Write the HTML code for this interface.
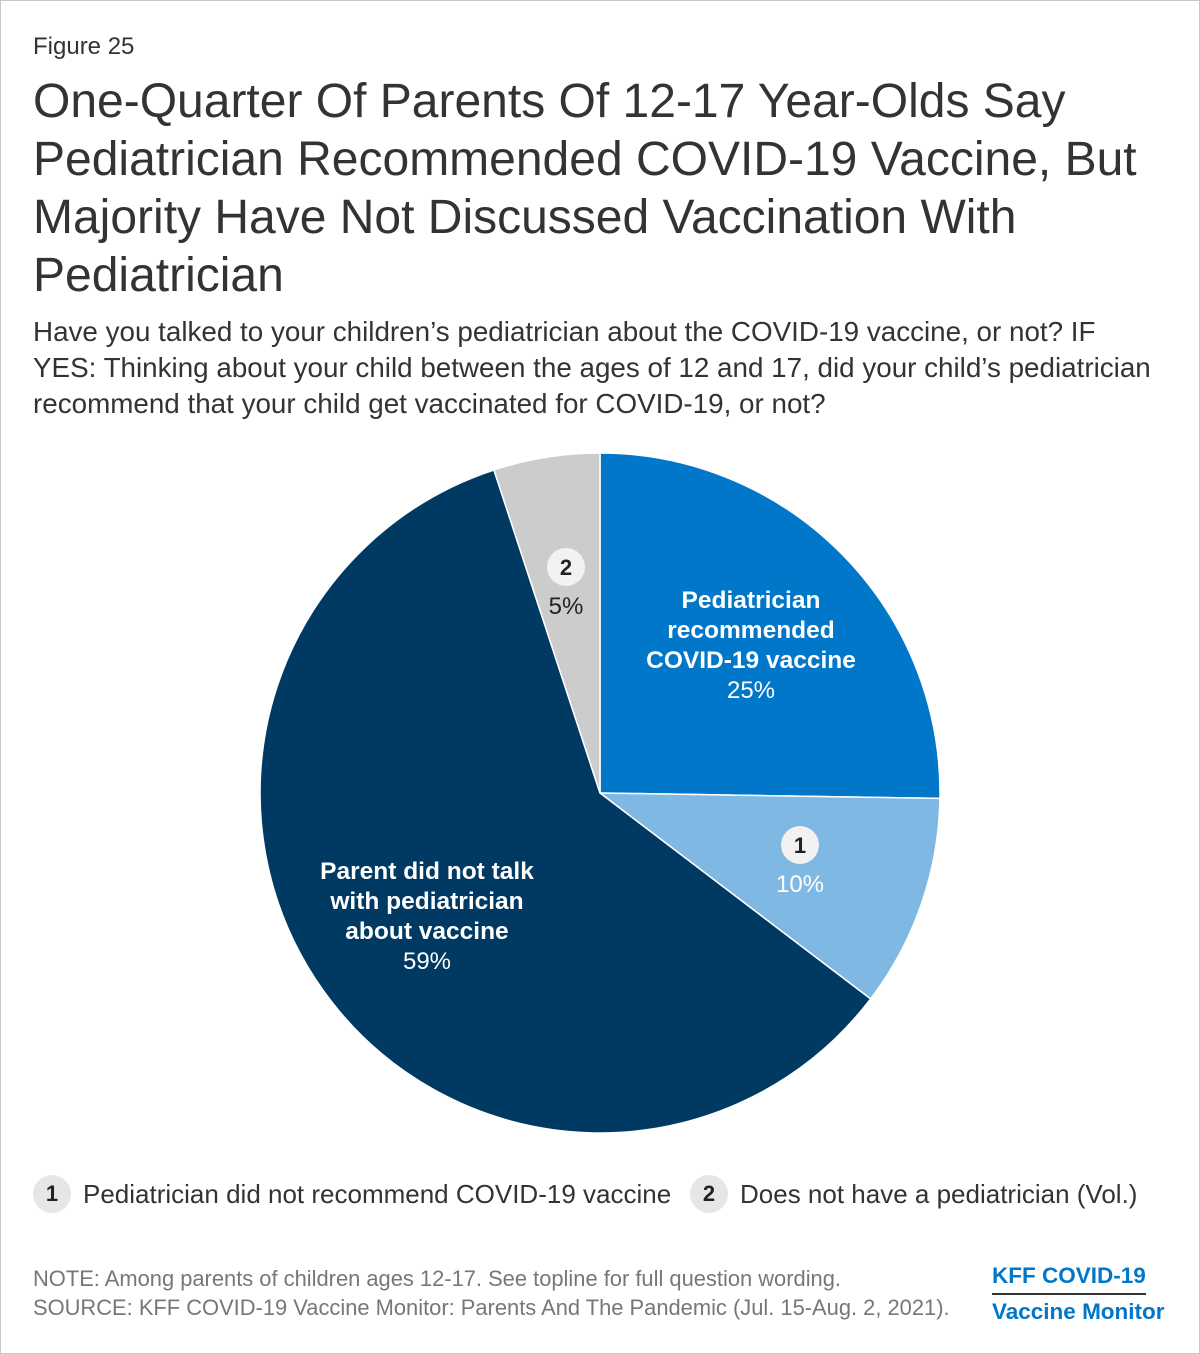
<!DOCTYPE html>
<html><head><meta charset="utf-8"><style>
body{margin:0;width:1200px;height:1354px;background:#fff;font-family:"Liberation Sans",Arial,sans-serif;color:#333;position:relative;overflow:hidden}
.frame{position:absolute;left:0;top:0;width:1198px;height:1352px;border:1px solid #c8c8c8}
.fig{position:absolute;left:33px;top:33px;font-size:24px;color:#333}
.title{position:absolute;left:33px;top:73px;width:1160px;font-size:48px;line-height:58px;color:#333}
.sub{position:absolute;left:33px;top:314px;width:1132px;font-size:27.8px;line-height:36px;color:#333}
.legend{position:absolute;top:1175px;font-size:26px;color:#333;display:flex;align-items:center}
.badge{display:inline-block;width:38px;height:38px;border-radius:50%;background:#e6e6e6;text-align:center;line-height:38px;font-weight:bold;font-size:22px;margin-right:12px;color:#222}
.note{position:absolute;left:33px;top:1264px;font-size:21.9px;line-height:29px;color:#777;white-space:nowrap}
.logo{position:absolute;left:992px;top:1259px;color:#0077c8;font-weight:bold;font-size:22.5px;line-height:34px}
.logo .l1{border-bottom:2px solid #333;display:inline-block}
</style></head><body>
<div class="frame"></div>
<div class="fig">Figure 25</div>
<div class="title">One-Quarter Of Parents Of 12-17 Year-Olds Say Pediatrician Recommended COVID-19 Vaccine, But Majority Have Not Discussed Vaccination With Pediatrician</div>
<div class="sub">Have you talked to your children’s pediatrician about the COVID-19 vaccine, or not? IF YES: Thinking about your child between the ages of 12 and 17, did your child’s pediatrician recommend that your child get vaccinated for COVID-19, or not?</div>
<svg id="pie" style="position:absolute;left:0;top:0" width="1200" height="1354"></svg>
<div class="legend" style="left:33px"><span class="badge">1</span>Pediatrician did not recommend COVID-19 vaccine</div>
<div class="legend" style="left:690px"><span class="badge">2</span>Does not have a pediatrician (Vol.)</div>
<div class="note">NOTE: Among parents of children ages 12-17. See topline for full question wording.<br>SOURCE: KFF COVID-19 Vaccine Monitor: Parents And The Pandemic (Jul. 15-Aug. 2, 2021).</div>
<div class="logo"><span class="l1">KFF COVID-19</span><br>Vaccine Monitor</div>
<script>
const categories=["Pediatrician recommended COVID-19 vaccine","Pediatrician did not recommend COVID-19 vaccine","Parent did not talk with pediatrician about vaccine","Does not have a pediatrician (Vol.)"];
const values=[25,10,59,5];
const colors=["#0077c8","#7fb9e3","#003a63","#cccccc"];
const labelLines=[["Pediatrician","recommended","COVID-19 vaccine"],[],["Parent did not talk","with pediatrician","about vaccine"],[]];
const badges=["","1","","2"];
// label anchor layout (x center, y of first element)
const labelAnchor=[[751,608],[800,845],[427,879],[566,567]];
const cx=600,cy=793,R=340;
const svg=document.getElementById('pie');
const NS="http://www.w3.org/2000/svg";
const total=values.reduce((a,b)=>a+b,0);
let a0=0;
function pt(a,r){return [cx+r*Math.sin(a),cy-r*Math.cos(a)];}
function txt(x,y,s,bold,fill,name){
  const t=document.createElementNS(NS,'text');
  t.setAttribute('x',x);t.setAttribute('y',y);t.setAttribute('text-anchor','middle');
  t.setAttribute('font-size',bold==='b'?'22':(bold?'24.5':'24'));
  if(bold) t.setAttribute('font-weight','bold');
  t.setAttribute('fill',fill);
  t.setAttribute('font-family','Liberation Sans, Arial, sans-serif');t.textContent=s;
  
  
  svg.appendChild(t);
}
values.forEach((v,i)=>{
  const a1=a0+v/total*2*Math.PI;
  const p0=pt(a0,R),p1=pt(a1,R);
  const path=document.createElementNS(NS,'path');
  path.setAttribute('d',`M${cx},${cy}L${p0[0]},${p0[1]}A${R},${R} 0 ${a1-a0>Math.PI?1:0} 1 ${p1[0]},${p1[1]}Z`);
  path.setAttribute('fill',colors[i]);path.setAttribute('stroke','#fff');path.setAttribute('stroke-width','1.5');
  
  
  svg.appendChild(path);
  const [lx,ly]=labelAnchor[i];
  if(badges[i]){
    const c=document.createElementNS(NS,'circle');
    c.setAttribute('cx',lx);c.setAttribute('cy',ly);c.setAttribute('r',19);c.setAttribute('fill','#f2f2f2');
    
    
    svg.appendChild(c);
    txt(lx,ly+8,badges[i],'b','#222','slice-badge-text-'+badges[i]);
    txt(lx,ly+47,v+'%',false,i===3?'#222':'#fff','slice-value-'+(i+1));
  } else {
    labelLines[i].forEach((s,k)=>txt(lx,ly+k*30,s,true,'#fff','slice-label-'+(i+1)));
    txt(lx,ly+labelLines[i].length*30,v+'%',false,'#fff','slice-value-'+(i+1));
  }
  a0=a1;
});
</script>
</body></html>
